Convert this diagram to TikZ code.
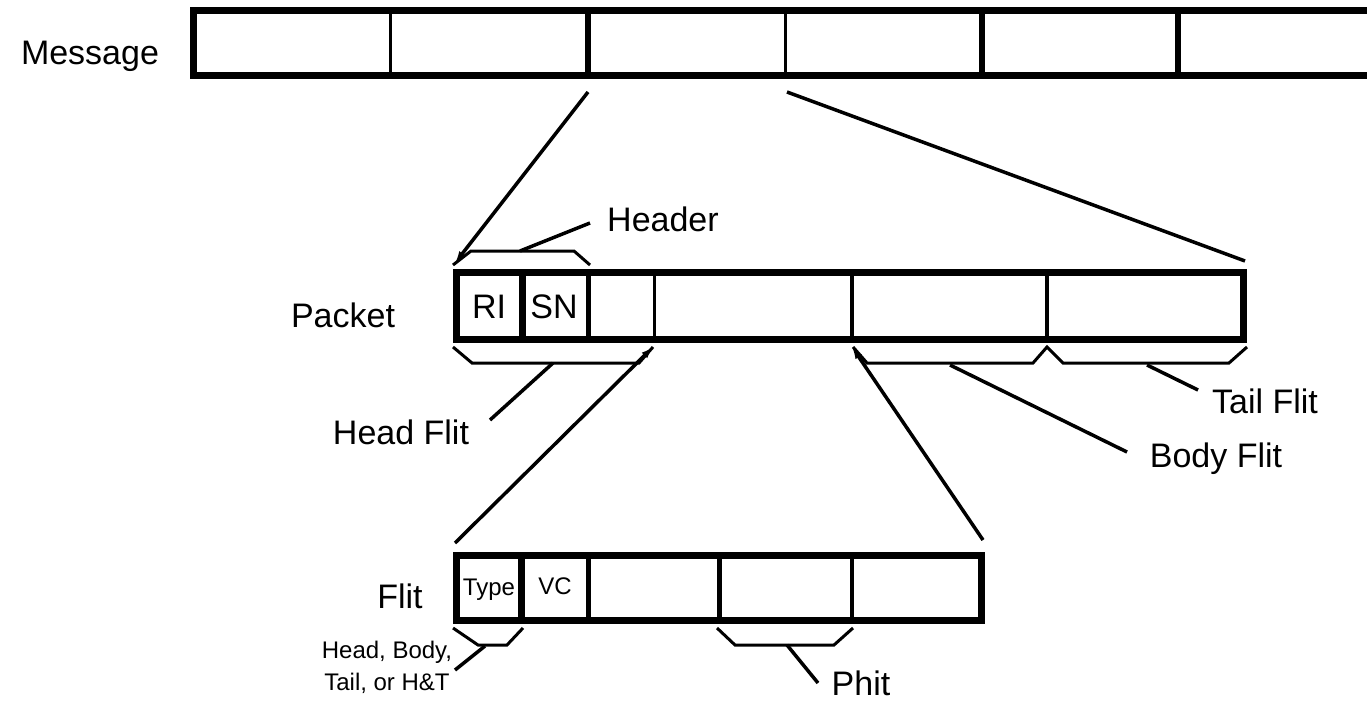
\documentclass[tikz,border=0pt]{standalone}
\usepackage{fontspec}
\setmainfont{Liberation Sans}
\usetikzlibrary{arrows.meta}
\begin{document}
\begin{tikzpicture}[x=1pt,y=-1pt,
  bar/.style={line width=7pt, line join=miter},
  thindiv/.style={line width=3pt},
  thickdiv/.style={line width=6pt},
  brace/.style={line width=3pt, line join=miter},
  pointer/.style={line width=3.5pt},
  lbl/.style={font=\fontsize{34}{40}\selectfont, inner sep=0pt, anchor=base},
  smalllbl/.style={font=\fontsize{24}{28}\selectfont, inner sep=0pt, anchor=base},
  tipend/.style={-{Latex[length=12pt,width=8pt]}}
]
\useasboundingbox (0,0) rectangle (1367,701);
\fill[white] (0,0) rectangle (1367,701);

% ---------------- Message bar
\draw[bar] (193.5,10.5) rectangle (1400,75.5);
\draw[thindiv]  (390,10.5) -- (390,75.5);
\draw[thickdiv] (588,10.5) -- (588,75.5);
\draw[thindiv]  (785,10.5) -- (785,75.5);
\draw[thickdiv] (982,10.5) -- (982,75.5);
\draw[thickdiv] (1178,10.5) -- (1178,75.5);
\node[lbl] (msg) at (90,65) {Message};

% ---------------- Packet bar
\draw[bar] (456.5,272.5) rectangle (1243.5,339.5);
\draw[line width=7pt] (522,272.5) -- (522,339.5);
\draw[line width=5pt] (588,272.5) -- (588,339.5);
\draw[line width=3pt] (654,272.5) -- (654,339.5);
\draw[line width=4.5pt] (852,272.5) -- (852,339.5);
\draw[line width=4.5pt] (1047,272.5) -- (1047,339.5);
\node[lbl] (ri) at (489,318) {RI};
\node[lbl] (sn) at (554,318) {SN};
\node[lbl] (pkt) at (343,327) {Packet};

% ---------------- Flit bar
\draw[bar] (456.5,555.5) rectangle (981.5,620.5);
\draw[line width=7pt] (521,555.5) -- (521,620.5);
\draw[line width=5pt] (588,555.5) -- (588,620.5);
\draw[line width=5pt] (719,555.5) -- (719,620.5);
\draw[line width=4.5pt] (852,555.5) -- (852,620.5);
\node[smalllbl] (type) at (489,595) {Type};
\node[smalllbl] (vc) at (555,594) {VC};
\node[lbl] (flit) at (400,608) {Flit};

% ---------------- Labels
\node[lbl, anchor=base west] (hdr) at (607,231) {Header};
\node[lbl] (hf) at (401,444) {Head Flit};
\node[lbl] (tf) at (1265,413) {Tail Flit};
\node[lbl] (bf) at (1216,467) {Body Flit};
\node[smalllbl] (hb1) at (387,658) {Head, Body,};
\node[smalllbl] (hb2) at (387,690) {Tail, or H\&T};
\node[lbl] (phit) at (861,695) {Phit};

% ---------------- Coordinates
\coordinate (m1) at (588,92);
\coordinate (p1) at (455,263);
\coordinate (m2) at (787,92);
\coordinate (p2) at (1245,261);
\coordinate (hbr) at (520,251);
\coordinate (hdrend) at (590,223);
\coordinate (hfbr) at (553,363);
\coordinate (hfend) at (490,420);
\coordinate (pk1) at (653,347);
\coordinate (fl1) at (455,543);
\coordinate (pk2) at (852,347);
\coordinate (fl2) at (983,540);
\coordinate (bfbr) at (950,365);
\coordinate (bfend) at (1127,452);
\coordinate (tfbr) at (1147,365);
\coordinate (tfend) at (1198,390);
\coordinate (tybr) at (485,646);
\coordinate (tyend) at (455,670);
\coordinate (phbr) at (787,645);
\coordinate (phend) at (818,683);

% ---------------- Braces
\draw[brace] (453,265) -- (471,251) -- (574,251) -- (590,265);
\draw[brace] (453,347) -- (472,363) -- (639,363) -- (653,347);
\draw[brace] (853,347) -- (867,363) -- (1033,363) -- (1047,347) -- (1063,363) -- (1229,363) -- (1247,347);
\draw[brace] (453,628) -- (478,645) -- (507,645) -- (523,628);
\draw[brace] (717,628) -- (735,645) -- (834,645) -- (853,628);

% ---------------- Connectors
\draw[pointer, tipend] (m1) -- (p1);
\draw[pointer] (m2) -- (p2);
\draw[pointer] (hbr) -- (hdrend);
\draw[pointer] (hfbr) -- (hfend);
\draw[pointer, tipend] (fl1) -- (pk1);
\draw[pointer, tipend] (fl2) -- (pk2);
\draw[pointer] (bfbr) -- (bfend);
\draw[pointer] (tfbr) -- (tfend);
\draw[pointer] (tybr) -- (tyend);
\draw[pointer] (phbr) -- (phend);
\end{tikzpicture}
\end{document}
